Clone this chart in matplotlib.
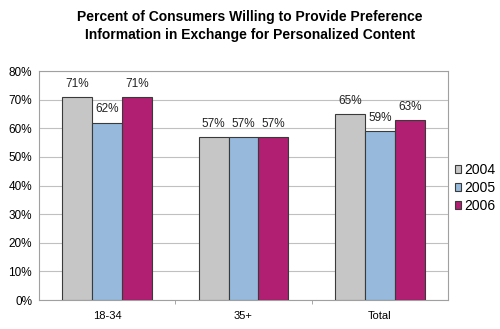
import numpy as np
import matplotlib.pyplot as plt

plt.rcParams['font.family'] = ['Liberation Sans', 'DejaVu Sans']

categories = ['18-34', '35+', 'Total']
years = ['2004', '2005', '2006']
vals_2004 = [71, 57, 65]
vals_2005 = [62, 57, 59]
vals_2006 = [71, 57, 63]
series = [vals_2004, vals_2005, vals_2006]
colors = ['#c6c6c6', '#96b9dc', '#b01f72']

fig = plt.figure(figsize=(5.0, 3.29), dpi=100)
ax = fig.add_axes([0.078, 0.088, 0.818, 0.696])

x = np.arange(len(categories))
w = 0.22
for i, (vals, c) in enumerate(zip(series, colors)):
    pos = x + (i - 1) * w
    bars = ax.bar(pos, vals, width=w, color=c, edgecolor='#3a3a3a',
                  linewidth=0.8, label=years[i], zorder=3)
    for p, v in zip(pos, vals):
        ax.text(p, v + 2.5, str(v) + '%', ha='center', va='bottom',
                fontsize=8.5, color='#222222')

ax.set_xlim(-0.5, 2.5)
ax.set_ylim(0, 80)
ax.set_yticks(range(0, 81, 10))
ax.set_yticklabels([str(t) + '%' for t in range(0, 81, 10)], fontsize=8.5)
ax.yaxis.grid(True, color='#c0c0c0', linewidth=0.8, zorder=0)
ax.tick_params(axis='y', length=0, pad=5)

ax.set_xticks(x)
ax.set_xticklabels(categories, fontsize=8)
ax.set_xticks([0.5, 1.5], minor=True)
ax.tick_params(axis='x', which='major', length=0, pad=8)
ax.tick_params(axis='x', which='minor', length=3, color='#999999')

for s in ax.spines.values():
    s.set_color('#a0a0a0')
    s.set_linewidth(0.8)

leg = ax.legend(loc='center left', bbox_to_anchor=(1.0, 0.49), frameon=False,
                fontsize=10, handlelength=0.45, handleheight=0.45,
                handletextpad=0.2, labelspacing=0.28, borderaxespad=0.5,
                borderpad=0)

fig.text(0.5, 0.921, 'Percent of Consumers Willing to Provide Preference\n'
         'Information in Exchange for Personalized Content',
         ha='center', va='center', fontsize=10, fontweight='bold',
         linespacing=1.35)

fig.savefig('out.png', dpi=100)
